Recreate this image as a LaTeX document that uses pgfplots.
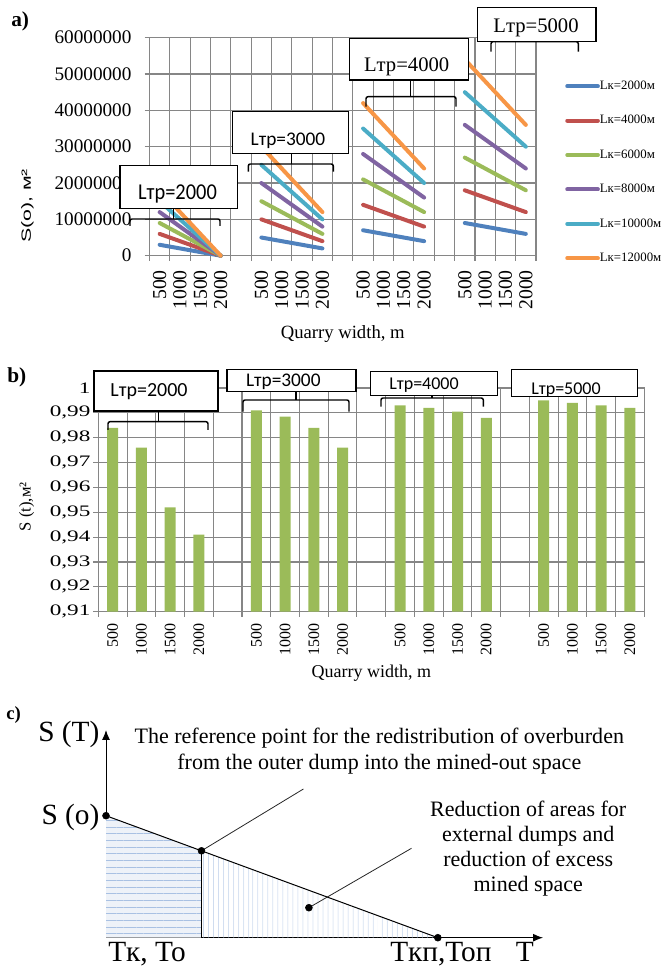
\documentclass[border=0pt]{standalone}
\usepackage{fontspec}
\setmainfont{Liberation Serif}
\newfontfamily\calfont{Carlito}
\newfontfamily\calfontn[FakeStretch=0.9]{Carlito}
\newfontfamily\arialfont{Liberation Sans}
\usepackage{graphicx}
\usepackage{pgfplots}
\usepackage{pgfplotstable}
\pgfplotsset{compat=1.18}
\usetikzlibrary{arrows.meta,patterns.meta}

\definecolor{c1}{HTML}{4F81BD}
\definecolor{c2}{HTML}{C0504D}
\definecolor{c3}{HTML}{9BBB59}
\definecolor{c4}{HTML}{8064A2}
\definecolor{c5}{HTML}{4BACC6}
\definecolor{c6}{HTML}{F79646}
\definecolor{gridc}{HTML}{868686}
\definecolor{fillc}{HTML}{EEF2F8}
\definecolor{hatchc}{HTML}{A9C1E3}

% S(o) for L_k = 2000..12000 m; x = category slot (gaps are nan)
\pgfplotstableread{
x k2 k4 k6 k8 k10 k12
0 3000000 6000000 9000000 12000000 15000000 18000000
1 2000000 4000000 6000000 8000000 10000000 12000000
2 1000000 2000000 3000000 4000000 5000000 6000000
3 0 0 0 0 0 0
4 nan nan nan nan nan nan
5 5000000 10000000 15000000 20000000 25000000 30000000
6 4000000 8000000 12000000 16000000 20000000 24000000
7 3000000 6000000 9000000 12000000 15000000 18000000
8 2000000 4000000 6000000 8000000 10000000 12000000
9 nan nan nan nan nan nan
10 7000000 14000000 21000000 28000000 35000000 42000000
11 6000000 12000000 18000000 24000000 30000000 36000000
12 5000000 10000000 15000000 20000000 25000000 30000000
13 4000000 8000000 12000000 16000000 20000000 24000000
14 nan nan nan nan nan nan
15 9000000 18000000 27000000 36000000 45000000 54000000
16 8000000 16000000 24000000 32000000 40000000 48000000
17 7000000 14000000 21000000 28000000 35000000 42000000
18 6000000 12000000 18000000 24000000 30000000 36000000
}\tabA

% S(t)
\pgfplotstableread{
x v
0 0.984
1 0.976
2 0.952
3 0.941
5 0.991
6 0.9885
7 0.984
8 0.976
10 0.993
11 0.992
12 0.9905
13 0.988
15 0.995
16 0.994
17 0.993
18 0.992
}\tabB

\newcommand\sx[1]{\scalebox{1.45}[1]{#1}}

\begin{document}
\begin{tikzpicture}
\path[use as bounding box] (0,0) rectangle (497.25pt,725.25pt);

% ---------------- panel a ----------------
\begin{axis}[
  at={(112.125pt,533.475pt)}, anchor=south west,
  scale only axis, width=289.875pt, height=163.5pt,
  xmin=-0.5, xmax=18.5, ymin=0, ymax=60000000,
  xtick={0,1,2,3,5,6,7,8,10,11,12,13,15,16,17,18},
  xticklabels={500,1000,1500,2000,500,1000,1500,2000,500,1000,1500,2000,500,1000,1500,2000},
  minor xtick={-0.5,0.5,1.5,2.5,3.5,4.5,5.5,6.5,7.5,8.5,9.5,10.5,11.5,12.5,13.5,14.5,15.5,16.5,17.5,18.5},
  ytick={0,10000000,20000000,30000000,40000000,50000000,60000000},
  yticklabels={0,10000000,20000000,30000000,40000000,50000000,60000000},
  scaled y ticks=false,
  xminorgrids, ymajorgrids,
  grid style={gridc, line width=0.8pt},
  minor grid style={gridc, line width=0.8pt},
  axis line style={gridc, line width=0.8pt},
  tick style={gridc, line width=0.8pt},
  major x tick style={draw=none},
  tick align=outside, tick pos=left,
  major tick length=3.75pt, minor tick length=3.75pt,
  xticklabel style={rotate=90, anchor=east, inner sep=0pt, font=\fontsize{14.8}{16}\selectfont},
  yticklabel style={anchor=east, inner sep=0pt, font=\fontsize{14.4}{16}\selectfont},
  xticklabel shift=6.9pt, yticklabel shift=9.6pt,
  xlabel={Quarry width, m},
  xlabel style={at={(axis description cs:0.5,-0.38)}, anchor=base, font=\fontsize{14}{16}\selectfont},
  ylabel={\scalebox{1.6}[1]{S(o), м²}},
  ylabel style={at={(axis description cs:-0.3157,0.228)}, anchor=center, font=\arialfont\fontsize{10}{12}\selectfont},
  unbounded coords=jump, clip=false,
  legend style={at={(axis description cs:1.0750,0.806)}, anchor=north west, draw=none, fill=none,
    inner sep=0pt, row sep=16.8pt, column sep=0pt, font=\fontsize{9.6}{12}\selectfont,
    nodes={inner sep=0pt, text height=7pt, text depth=2pt}},
  legend cell align=left,
  legend image code/.code={\draw[#1, line width=3pt] (0pt,0pt) -- (23pt,0pt);},
]
\addplot[c1, line width=3pt, line cap=round] table[x=x, y=k2] {\tabA};
\addlegendentry{Lк=2000м}
\addplot[c2, line width=3pt, line cap=round] table[x=x, y=k4] {\tabA};
\addlegendentry{Lк=4000м}
\addplot[c3, line width=3pt, line cap=round] table[x=x, y=k6] {\tabA};
\addlegendentry{Lк=6000м}
\addplot[c4, line width=3pt, line cap=round] table[x=x, y=k8] {\tabA};
\addlegendentry{Lк=8000м}
\addplot[c5, line width=3pt, line cap=round] table[x=x, y=k10] {\tabA};
\addlegendentry{Lк=10000м}
\addplot[c6, line width=3pt, line cap=round] table[x=x, y=k12] {\tabA};
\addlegendentry{Lк=12000м}
\end{axis}

% ---------------- panel b ----------------
\begin{axis}[
  at={(73.725pt,266.475pt)}, anchor=south west,
  scale only axis, width=409.5pt, height=167.775pt,
  xmin=-0.5, xmax=18.5, ymin=0.91, ymax=1,
  xtick={0,1,2,3,5,6,7,8,10,11,12,13,15,16,17,18},
  xticklabels={500,1000,1500,2000,500,1000,1500,2000,500,1000,1500,2000,500,1000,1500,2000},
  minor xtick={-0.5,0.5,1.5,2.5,3.5,4.5,5.5,6.5,7.5,8.5,9.5,10.5,11.5,12.5,13.5,14.5,15.5,16.5,17.5,18.5},
  ytick={0.91,0.92,0.93,0.94,0.95,0.96,0.97,0.98,0.99,1},
  yticklabels={\sx{0,91},\sx{0,92},\sx{0,93},\sx{0,94},\sx{0,95},\sx{0,96},\sx{0,97},\sx{0,98},\sx{0,99},\sx{1}},
  xminorgrids, ymajorgrids,
  grid style={gridc, line width=0.8pt},
  minor grid style={gridc, line width=0.8pt},
  axis line style={gridc, line width=0.8pt},
  tick style={gridc, line width=0.8pt},
  major x tick style={draw=none},
  tick align=outside, tick pos=left,
  major tick length=3.75pt, minor tick length=3.75pt,
  xticklabel style={rotate=90, anchor=east, inner sep=0pt, font=\fontsize{12}{14}\selectfont},
  yticklabel style={anchor=east, inner sep=0pt, font=\fontsize{12}{14}\selectfont},
  xticklabel shift=4.75pt, yticklabel shift=1.95pt,
  xlabel={Quarry width, m},
  xlabel style={at={(axis description cs:0.5,-0.293)}, anchor=base, font=\fontsize{13.5}{16}\selectfont},
  ylabel={S (t),м²},
  ylabel style={at={(axis description cs:-0.1311,0.469)}, anchor=center, font=\fontsize{12.5}{14}\selectfont},
]
\addplot[ybar, bar width=8.25pt, bar shift=0pt, fill=c3, draw=none] table[x=x, y=v] {\tabB};
\end{axis}

% ---------------- panel c ----------------
\begin{axis}[
  at={(79.5pt,21.975pt)}, anchor=south west,
  scale only axis, width=327.75pt, height=155.775pt,
  xmin=0, xmax=437, ymin=0, ymax=207.7,
  axis x line=bottom, axis y line=left,
  axis line style={black, line width=0.75pt, -{Latex[length=7.5pt,width=6pt]}},
  xtick=\empty, ytick=\empty, clip=false,
]
\addplot[draw=none, fill=fillc] coordinates {(0,122) (95.5,86.9)} \closedcycle;
\addplot[draw=none, pattern={Lines[angle=0,distance=5pt,line width=0.5pt]}, pattern color=hatchc] coordinates {(0,122) (95.5,86.9)} \closedcycle;
\addplot[draw=none, pattern={Lines[angle=90,distance=4pt,line width=0.5pt]}, pattern color=hatchc] coordinates {(95.5,86.9) (331.8,0)} \closedcycle;
\addplot[black, line width=0.75pt] coordinates {(0,122) (331.8,0)};
\addplot[black, line width=0.75pt] coordinates {(95.5,86.9) (95.5,0)};
\addplot[black!85, line width=0.6pt] coordinates {(95.5,86.9) (197.4,148.7)};
\addplot[black!85, line width=0.6pt] coordinates {(202.9,30) (305.5,89.4)};
\addplot[only marks, mark=*, mark size=2.6pt, black] coordinates {(0,122) (95.5,86.9) (331.8,0) (202.9,30)};
\end{axis}

% ---------------- annotations (pixel frame) ----------------
\begin{scope}[x=0.75pt, y=-0.75pt, shift={(0pt,725.25pt)}]
  % panel labels
  \node[anchor=base west, inner sep=0pt, font=\bfseries\fontsize{16}{18}\selectfont] at (11,27) {a)};
  \node[anchor=base west, inner sep=0pt, font=\bfseries\fontsize{16}{18}\selectfont] at (7,383) {b)};
  \node[anchor=base west, inner sep=0pt, font=\bfseries\fontsize{14}{16}\selectfont] at (6,720) {c)};

  % panel a brackets and boxes
  \begin{scope}[line width=1.1pt, rounded corners=1.5pt]
    \draw (130,226) -- (130,219) -- (220,219) -- (220,226);
    \draw (173.7,219) -- (173.7,208);
    \draw (248.3,171.7) -- (248.3,164) -- (333.3,164) -- (333.3,171.7);
    \draw (291.7,164) -- (291.7,153);
    \draw (366,106.7) -- (366,96.7) -- (456,96.7) -- (456,106.7);
    \draw (410.7,96.7) -- (410.7,80);
    \draw (491,51.7) -- (491,41.7) -- (578.3,41.7) -- (578.3,51.7);
  \end{scope}
  \draw[line width=1.1pt, fill=white] (120,165.7) rectangle (237.3,208.3);
  \draw[line width=1.1pt, fill=white] (232.3,111.7) rectangle (348.3,153.3);
  \draw[line width=1.1pt, fill=white] (349.3,38.3) rectangle (468.3,80);
  \draw[line width=1.1pt, fill=white] (477.3,7.3) rectangle (596,41.7);
  \node[anchor=base, inner sep=0pt, font=\calfontn\fontsize{17}{19}\selectfont] at (177.5,200) {Lтр=2000};
  \node[anchor=base, inner sep=0pt, font=\calfont\fontsize{14.5}{16}\selectfont] at (288,145.7) {Lтр=3000};
  \node[anchor=base, inner sep=0pt, font=\fontsize{15.5}{17}\selectfont] at (406.7,71.7) {Lтр=4000};
  \node[anchor=base, inner sep=0pt, font=\fontsize{15.5}{17}\selectfont] at (536,32.7) {Lтр=5000};

  % panel b brackets and boxes
  \begin{scope}[line width=1.1pt, rounded corners=1.5pt]
    \draw (108,430) -- (108,421.7) -- (208,421.7) -- (208,430);
    \draw (158.3,421.7) -- (158.3,411);
    \draw (243,411.7) -- (243,400) -- (349,400) -- (349,411.7);
    \draw (296,400) -- (296,391.7);
    \draw (381,406.7) -- (381,398) -- (483.3,398) -- (483.3,406.7);
    \draw (432,398) -- (432,395.7);
  \end{scope}
  \draw[line width=1.1pt, fill=white] (94,371) rectangle (218,411);
  \draw[line width=1.1pt, fill=white] (227,369.3) rectangle (356,391.7);
  \draw[line width=1.1pt, fill=white] (370.7,371.7) rectangle (497.7,395.7);
  \draw[line width=1.1pt, fill=white] (511.7,369.3) rectangle (637.7,396.7);
  \node[anchor=base, inner sep=0pt, font=\calfont\fontsize{15}{17}\selectfont] at (149,396.7) {Lтр=2000};
  \node[anchor=base, inner sep=0pt, font=\calfont\fontsize{14.5}{17}\selectfont] at (283.3,387) {Lтр=3000};
  \node[anchor=base, inner sep=0pt, font=\calfont\fontsize{13.5}{16}\selectfont] at (424,390) {Lтр=4000};
  \node[anchor=base, inner sep=0pt, font=\calfont\fontsize{13.5}{16}\selectfont] at (566,395) {Lтр=5000};

  % panel c texts
  \node[anchor=base east, inner sep=0pt, font=\fontsize{22}{26}\selectfont] at (99.7,741.7) {S (T)};
  \node[anchor=base east, inner sep=0pt, font=\fontsize{22}{26}\selectfont] at (99.7,825) {S (o)};
  \node[anchor=base west, inner sep=0pt, font=\fontsize{22}{26}\selectfont] at (108,961.7) {Tк, To};
  \node[anchor=base west, inner sep=0pt, font=\fontsize{22}{26}\selectfont] at (390,961.7) {Tкп,Топ};
  \node[anchor=base west, inner sep=0pt, font=\fontsize{22}{26}\selectfont] at (515.5,961.7) {T};
  \node[anchor=base, inner sep=0pt, font=\fontsize{16.5}{19}\selectfont] at (379.3,744) {The reference point for the redistribution of overburden};
  \node[anchor=base, inner sep=0pt, font=\fontsize{16.5}{19}\selectfont] at (379.3,770) {from the outer dump into the mined-out space};
  \node[anchor=base, inner sep=0pt, font=\fontsize{16.5}{19}\selectfont] at (528.2,816.7) {Reduction of areas for};
  \node[anchor=base, inner sep=0pt, font=\fontsize{16.5}{19}\selectfont] at (528.2,841.7) {external dumps and};
  \node[anchor=base, inner sep=0pt, font=\fontsize{16.5}{19}\selectfont] at (528.2,866.7) {reduction of excess};
  \node[anchor=base, inner sep=0pt, font=\fontsize{16.5}{19}\selectfont] at (528.2,891.7) {mined space};
\end{scope}
\end{tikzpicture}
\end{document}
